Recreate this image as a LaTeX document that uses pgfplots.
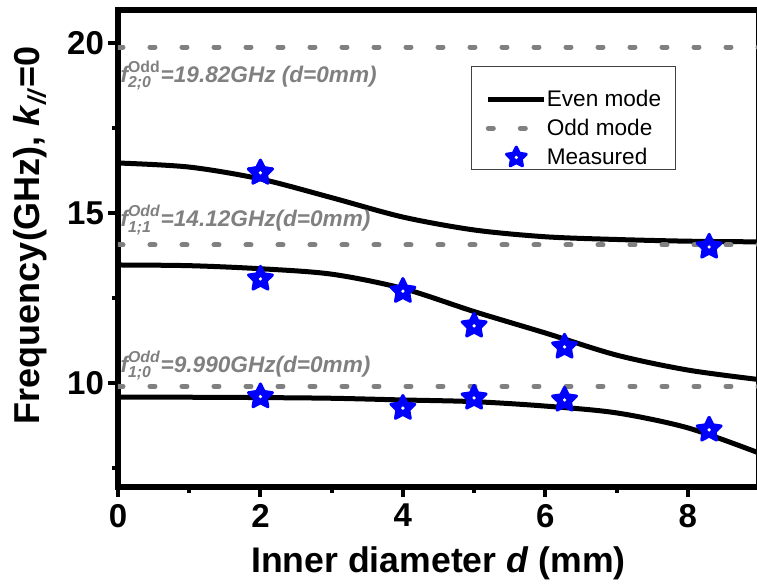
\documentclass[border=0pt]{standalone}
\usepackage{fontspec}
\setmainfont{Liberation Sans}
\usepackage{amsmath}
\usepackage{pgfplots}
\pgfplotsset{compat=1.18}
\definecolor{oddgray}{RGB}{128,128,128}
\definecolor{starblue}{RGB}{0,0,255}

% five-pointed star, filled, small white centre
\pgfdeclareplotmark{bstar}{%
  \pgfpathmoveto{\pgfpointpolar{90}{\pgfplotmarksize}}%
  \pgfpathlineto{\pgfpointpolar{126}{0.5\pgfplotmarksize}}%
  \pgfpathlineto{\pgfpointpolar{162}{\pgfplotmarksize}}%
  \pgfpathlineto{\pgfpointpolar{198}{0.5\pgfplotmarksize}}%
  \pgfpathlineto{\pgfpointpolar{234}{\pgfplotmarksize}}%
  \pgfpathlineto{\pgfpointpolar{270}{0.5\pgfplotmarksize}}%
  \pgfpathlineto{\pgfpointpolar{306}{\pgfplotmarksize}}%
  \pgfpathlineto{\pgfpointpolar{342}{0.5\pgfplotmarksize}}%
  \pgfpathlineto{\pgfpointpolar{18}{\pgfplotmarksize}}%
  \pgfpathlineto{\pgfpointpolar{54}{0.5\pgfplotmarksize}}%
  \pgfpathclose
  \pgfusepathqfillstroke
  \begin{pgfscope}%
    \pgfsetfillcolor{white}%
    \pgfpathcircle{\pgfpointorigin}{0.9pt}%
    \pgfusepathqfill
  \end{pgfscope}}

\pgfplotsset{
  evenline/.style={black, line width=2.5pt, smooth, tension=0.5},
  oddline/.style={oddgray, line width=2.5pt, line cap=round, dash pattern=on 2.5pt off 13.5pt},
  meas/.style={only marks, mark=bstar, mark size=6.3pt,
    mark options={draw=starblue, fill=starblue, line width=1.5pt, line join=round}},
}

\begin{document}
\begin{tikzpicture}
\begin{axis}[
  name=ax,
  scale only axis,
  width=320.5pt, height=238.5pt,
  xmin=0, xmax=9, ymin=6.94, ymax=20.97,
  xtick={0,2,4,6,8}, minor xtick={1,3,5,7},
  ytick={10,15,20}, minor ytick={7.5,12.5,17.5},
  tick align=outside, xtick pos=left, ytick pos=left,
  major tick length=5pt, minor tick length=3pt,
  every tick/.style={black, line width=2pt},
  axis line style={line width=2.7pt},
  /pgf/number format/assume math mode=true,
  ticklabel style={font=\bfseries\fontsize{16.5}{19}\selectfont},
  yticklabel style={xshift=1.5pt},
  xlabel={Inner diameter \textit{d} (mm)},
  ylabel={Frequency(GHz), \textit{k}\textsubscript{\textit{//}}=0},
  xlabel style={font=\bfseries\fontsize{17.8}{21}\selectfont,
    at={(axis description cs:0.5,-0.180)}, anchor=base},
  ylabel style={font=\bfseries\fontsize{18}{21}\selectfont,
    at={(axis description cs:-0.123,0.528)}, anchor=base},
  legend style={at={(0.87,0.883)}, anchor=north east, draw=black!75,
    line width=0.5pt, inner xsep=7pt, inner ysep=1pt, row sep=4.5pt,
    nodes={inner sep=0pt, font=\fontsize{11.3}{13.5}\selectfont},
    /tikz/every even column/.append style={column sep=2.5pt}},
  legend cell align=left,
  legend image code/.code={%
    \draw[mark repeat=2, mark phase=2, mark size=5.2pt] plot coordinates {(0pt,0pt) (14pt,0pt) (28pt,0pt)};},
]
% blank first legend row for the top padding
\addlegendimage{empty legend}
\addlegendentry{\rule{0pt}{5pt}}
% even modes
\addplot[evenline] coordinates {
  (0,16.47) (1,16.35) (2,16.0) (3,15.45) (4,14.88) (5,14.5) (6,14.3) (7,14.22) (8,14.17) (9,14.15)};
\addlegendentry{Even mode}
% odd modes
\addplot[oddline] coordinates {(0,19.88) (9,19.88)};
\addlegendentry{Odd mode}
% measured (legend only here, drawn again on top below)
\addplot[meas] coordinates {(2,16.18)};
\addlegendentry{Measured}

\addplot[forget plot, evenline] coordinates {
  (0,13.47) (1,13.45) (2,13.36) (3,13.2) (4,12.78) (5,12.1) (6,11.47) (7,10.82) (8,10.38) (9,10.1)};
\addplot[forget plot, evenline] coordinates {
  (0,9.58) (1,9.58) (2,9.57) (3,9.55) (4,9.5) (5,9.45) (6,9.32) (7,9.12) (8,8.68) (9,7.94)};
\addplot[forget plot, oddline] coordinates {(0,14.06) (9,14.06)};
\addplot[forget plot, oddline] coordinates {(0,9.9) (9,9.9)};

\addplot[forget plot, meas] coordinates {
  (2,16.18) (8.3,14.0)
  (2,13.06) (4,12.7) (5,11.68) (6.27,11.06)
  (2,9.6) (4,9.26) (5,9.56) (6.27,9.5) (8.3,8.62)};

\begin{scope}[every node/.style={anchor=base west, text=oddgray, inner sep=0pt,
    font=\bfseries\itshape\fontsize{11.3}{13.5}\selectfont}]
\node at (axis cs:0.03,18.85) {$\text{\textit{f}}^{\text{\textup{Odd}}}_{\text{2;0}}$=19.82GHz (d=0mm)};
\node at (axis cs:0.03,14.59) {$\text{\textit{f}}^{\text{Odd}}_{\text{1;1}}$=14.12GHz(d=0mm)};
\node at (axis cs:0.03,10.32) {$\text{\textit{f}}^{\text{Odd}}_{\text{1;0}}$=9.990GHz(d=0mm)};
\end{scope}
\end{axis}
\pgfresetboundingbox
\useasboundingbox ([xshift=-59pt,yshift=-48.5pt]ax.south west)
  rectangle ([xshift=319.5pt,yshift=5pt]ax.north west);
\end{tikzpicture}
\end{document}
